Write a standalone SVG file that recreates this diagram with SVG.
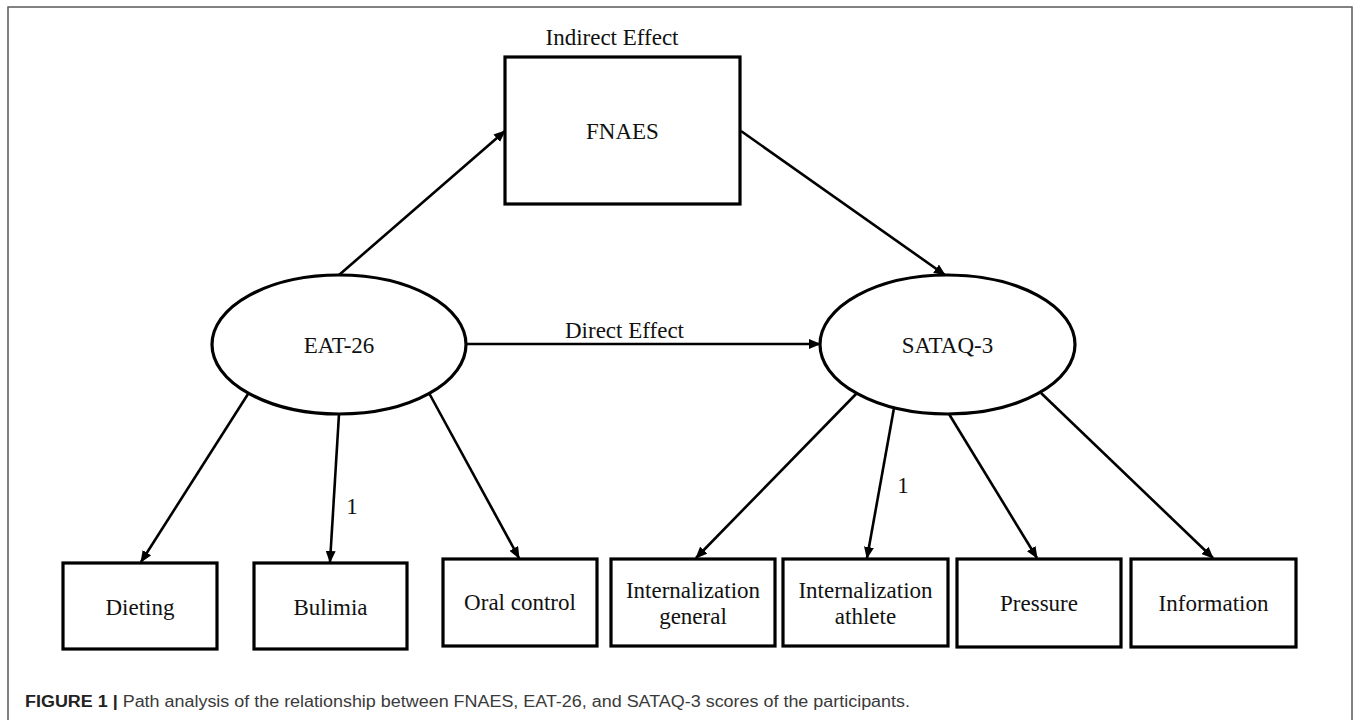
<svg xmlns="http://www.w3.org/2000/svg" width="1360" height="720" viewBox="0 0 1360 720">
  <style>
    .frame { fill: none; stroke: #5a5a5a; stroke-width: 1.5; }
    .box { fill: #ffffff; stroke: #000000; stroke-width: 3.2; }
    .oval { fill: #ffffff; stroke: #000000; stroke-width: 3.2; }
    .edge { fill: none; stroke: #000000; stroke-width: 2.6; marker-end: url(#arrow); }
    .lbl { font-family: "Liberation Serif", "Times New Roman", serif; font-size: 23px; fill: #111111; text-anchor: middle; }
    .cap { font-family: "Liberation Sans", Arial, sans-serif; font-size: 16px; fill: #3a3a3a; }
    .capb { font-weight: bold; fill: #222222; }
  </style>
  <defs>
    <marker id="arrow" markerUnits="userSpaceOnUse" markerWidth="12" markerHeight="10" refX="11" refY="5" orient="auto">
      <path d="M0,0 L12,5 L0,10 Z" fill="#000000"/>
    </marker>
  </defs>
  <rect x="0" y="0" width="1360" height="720" fill="#ffffff"/>
  <rect class="frame" x="8" y="7" width="1344" height="730"/>

  <g id="connectors">
    <line class="edge" x1="339" y1="275" x2="505" y2="131"/>
    <line class="edge" x1="741" y1="131" x2="945" y2="275"/>
    <line class="edge" x1="466" y1="344" x2="820" y2="344"/>
    <line class="edge" x1="248" y1="394" x2="141" y2="562"/>
    <line class="edge" x1="339" y1="414" x2="330" y2="562"/>
    <line class="edge" x1="429" y1="393" x2="519" y2="558"/>
    <line class="edge" x1="857" y1="393" x2="696" y2="558"/>
    <line class="edge" x1="894" y1="408" x2="867" y2="558"/>
    <line class="edge" x1="949" y1="414" x2="1037" y2="558"/>
    <line class="edge" x1="1041" y1="393" x2="1213" y2="558"/>
    <text class="lbl" x="612" y="45">Indirect Effect</text>
    <text class="lbl" x="624.5" y="338">Direct Effect</text>
    <text class="lbl" x="352" y="514">1</text>
    <text class="lbl" x="903" y="493">1</text>
  </g>

  <g id="fnaes">
    <rect class="box" x="505" y="57" width="235" height="147"/>
    <text class="lbl" x="622.5" y="139">FNAES</text>
  </g>
  <g id="eat26">
    <ellipse class="oval" cx="339" cy="344.5" rx="127" ry="69.5"/>
    <text class="lbl" x="339" y="353">EAT-26</text>
  </g>
  <g id="sataq3">
    <ellipse class="oval" cx="947.5" cy="344.5" rx="127.5" ry="69.5"/>
    <text class="lbl" x="947.5" y="353">SATAQ-3</text>
  </g>
  <g id="dieting">
    <rect class="box" x="63" y="563" width="154" height="86"/>
    <text class="lbl" x="140" y="615">Dieting</text>
  </g>
  <g id="bulimia">
    <rect class="box" x="254" y="563" width="153" height="86"/>
    <text class="lbl" x="330.5" y="615">Bulimia</text>
  </g>
  <g id="oral-control">
    <rect class="box" x="443" y="559" width="154" height="87"/>
    <text class="lbl" x="520" y="610">Oral control</text>
  </g>
  <g id="internalization-general">
    <rect class="box" x="611" y="559" width="164" height="87"/>
    <text class="lbl" x="693" y="598">Internalization</text>
    <text class="lbl" x="693" y="624">general</text>
  </g>
  <g id="internalization-athlete">
    <rect class="box" x="783" y="559" width="165" height="87"/>
    <text class="lbl" x="865.5" y="598">Internalization</text>
    <text class="lbl" x="865.5" y="624">athlete</text>
  </g>
  <g id="pressure">
    <rect class="box" x="957" y="559" width="164" height="88"/>
    <text class="lbl" x="1039" y="611">Pressure</text>
  </g>
  <g id="information">
    <rect class="box" x="1131" y="559" width="165" height="88"/>
    <text class="lbl" x="1213.5" y="611">Information</text>
  </g>

  <text class="cap" x="25" y="707" textLength="885" lengthAdjust="spacingAndGlyphs"><tspan class="capb">FIGURE 1 |</tspan> Path analysis of the relationship between FNAES, EAT-26, and SATAQ-3 scores of the participants.</text>
</svg>
